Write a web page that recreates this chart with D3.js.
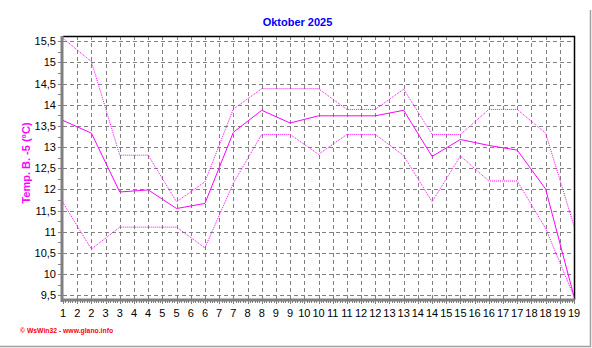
<!DOCTYPE html>
<html>
<head>
<meta charset="utf-8">
<script src="https://cdn.jsdelivr.net/npm/d3@7"></script>
<style>
body { margin: 0; background: #fff; }
text { font-family: "Liberation Sans", Arial, sans-serif; }
</style>
</head>
<body>
<script>
// Werte Oktober 2025
var days    = [1,2,3,4,5,6,7,8,9,10,11,12,13,14,15,16,17,18,19];
var tempAvg = [13.63,13.33,11.94,11.99,11.55,11.67,13.35,13.87,13.57,13.74,13.74,13.74,13.87,12.78,13.18,13.04,12.93,12.01,9.47];
var tempMax = [15.57,15.02,12.81,12.81,11.71,12.18,13.9,14.38,14.38,14.38,13.89,13.89,14.37,13.3,13.3,13.89,13.89,13.33,11.14];
var tempMin = [11.69,10.59,11.11,11.11,11.11,10.62,12.15,13.3,13.3,12.83,13.3,13.3,12.8,11.71,12.79,12.2,12.2,11.08,9.47];
var yTicks  = [9.5,10,10.5,11,11.5,12,12.5,13,13.5,14,14.5,15,15.5];

var W = 592, H = 348;
var pLeft = 63, pRight = 574, pTop = 36, pBottom = 300;

var svg = d3.select("body").append("svg")
    .attr("width", W)
    .attr("height", H);

var x = d3.scaleLinear().domain([1, 19]).range([pLeft, pRight]);
var y = d3.scaleLinear().domain([9.5, 15.5]).range([295.3, 41.3]);

// Rahmen rechts/unten
svg.append("path")
    .attr("d", "M590.5,10V346.5H0")
    .attr("fill", "none")
    .attr("stroke", "#a0a0a0")
    .attr("stroke-width", 1.5);

// Gitter
var halfDays = d3.range(1.5, 19, 0.5);
svg.append("g").selectAll("line").data(halfDays).enter().append("line")
    .attr("x1", function(d) { return Math.round(x(d)) + 0.5; })
    .attr("x2", function(d) { return Math.round(x(d)) + 0.5; })
    .attr("y1", pTop).attr("y2", pBottom)
    .attr("stroke", "#808080")
    .attr("stroke-dasharray", "4,3");

svg.append("g").selectAll("line").data(yTicks).enter().append("line")
    .attr("x1", pLeft).attr("x2", pRight)
    .attr("y1", function(d) { return Math.round(y(d)) + 0.5; })
    .attr("y2", function(d) { return Math.round(y(d)) + 0.5; })
    .attr("stroke", "#808080")
    .attr("stroke-dasharray", "4,3");

// obere und rechte Linie
svg.append("path")
    .attr("d", "M" + pLeft + "," + (pTop + 0.5) + "H" + (pRight + 0.5) + "V" + pBottom)
    .attr("fill", "none")
    .attr("stroke", "#000")
    .attr("stroke-width", 1.5);

// Achsen
svg.append("line")
    .attr("x1", 62).attr("x2", 62).attr("y1", pTop).attr("y2", pBottom + 2)
    .attr("stroke", "#808080").attr("stroke-width", 3);
svg.append("line")
    .attr("x1", 61).attr("x2", pRight + 1).attr("y1", pBottom).attr("y2", pBottom)
    .attr("stroke", "#808080").attr("stroke-width", 3);

// Y-Ticks
svg.append("g").selectAll("line").data(d3.range(9.5, 15.6, 0.25)).enter().append("line")
    .attr("x1", 58).attr("x2", 61)
    .attr("y1", function(d) { return Math.round(y(d)) + 0.5; })
    .attr("y2", function(d) { return Math.round(y(d)) + 0.5; })
    .attr("stroke", "#808080");

svg.append("g").selectAll("text").data(yTicks).enter().append("text")
    .attr("x", 56)
    .attr("y", function(d) { return y(d) + 4; })
    .attr("text-anchor", "end")
    .attr("font-size", 11)
    .text(function(d) { return String(d).replace(".", ","); });

// X-Ticks
svg.append("g").selectAll("line").data(d3.range(0, 18 * 12 + 1)).enter().append("line")
    .attr("x1", function(i) { return Math.round(x(1 + i / 12)) + 0.5; })
    .attr("x2", function(i) { return Math.round(x(1 + i / 12)) + 0.5; })
    .attr("y1", pBottom + 1)
    .attr("y2", function(i) { return i % 6 == 0 ? pBottom + 4 : pBottom + 3; })
    .attr("stroke", "#808080");

svg.append("g").selectAll("text").data(d3.range(1, 19.01, 0.5)).enter().append("text")
    .attr("x", function(d) { return x(d); })
    .attr("y", 317)
    .attr("text-anchor", "middle")
    .attr("font-size", 11)
    .text(function(d) { return Math.round(d); });

// Linien
function series(vals) {
    return d3.line()
        .x(function(d, i) { return x(days[i]); })
        .y(function(d) { return y(d); })(vals);
}

svg.append("path")
    .attr("d", series(tempMax))
    .attr("fill", "none")
    .attr("stroke", "#ff00ff")
    .attr("stroke-dasharray", "1,1");

svg.append("path")
    .attr("d", series(tempMin))
    .attr("fill", "none")
    .attr("stroke", "#ff00ff")
    .attr("stroke-dasharray", "1,1");

svg.append("path")
    .attr("d", series(tempAvg))
    .attr("fill", "none")
    .attr("stroke", "#ff00ff")
    .attr("stroke-width", 1);

// Texte
svg.append("text")
    .attr("x", 297.5).attr("y", 26)
    .attr("text-anchor", "middle")
    .attr("font-size", 11)
    .attr("font-weight", "bold")
    .attr("fill", "#0000ff")
    .text("Oktober 2025");

svg.append("text")
    .attr("transform", "translate(29.5,163) rotate(-90)")
    .attr("text-anchor", "middle")
    .attr("font-size", 11)
    .attr("font-weight", "bold")
    .attr("fill", "#ff00ff")
    .text("Temp. B. -5 (°C)");

svg.append("text")
    .attr("x", 20).attr("y", 333)
    .attr("font-family", "DejaVu Sans")
    .attr("font-size", 6.8)
    .attr("font-weight", "bold")
    .attr("fill", "#ff0000")
    .text("© WsWin32 - www.glano.info");
</script>
</body>
</html>
